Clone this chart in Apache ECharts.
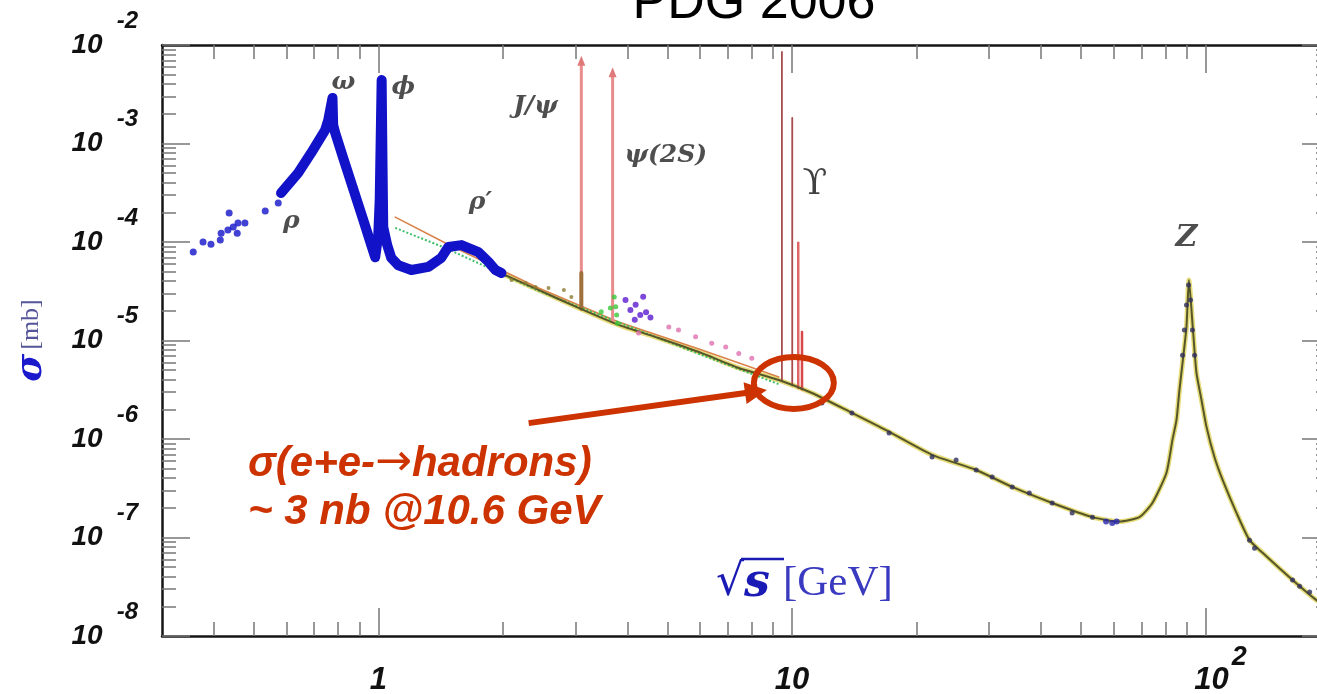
<!DOCTYPE html>
<html>
<head>
<meta charset="utf-8">
<title>PDG 2006</title>
<script src="https://cdn.jsdelivr.net/npm/echarts@6/dist/echarts.min.js"></script>
<style>
    html, body { margin: 0; padding: 0; background: #fff; }
    #chart { width: 1317px; height: 694px; }
</style>
</head>
<body>
<div id="chart"></div>
<script>
// sqrt(s) [GeV], sigma [mb]
let rhoTail = [[0.357, 7.9e-5], [0.377, 1.0e-4], [0.394, 9.5e-5], [0.415, 1.05e-4], [0.417, 1.23e-4],
    [0.433, 1.32e-4], [0.436, 1.97e-4], [0.446, 1.42e-4], [0.456, 1.23e-4], [0.458, 1.56e-4],
    [0.476, 1.56e-4], [0.533, 2.06e-4], [0.573, 2.49e-4]];
let lowEnergyBand = [[0.582, 3.14e-4], [0.640, 5.02e-4], [0.688, 8.0e-4], [0.744, 1.37e-3], [0.757, 1.73e-3],
    [0.775, 2.9e-3], [0.778, 1.54e-3], [0.787, 1.28e-3], [0.823, 7.1e-4], [0.870, 3.45e-4], [0.920, 1.67e-4],
    [0.962, 9.3e-5], [0.983, 7.0e-5], [1.0, 1.18e-4], [1.008, 2.67e-4], [1.019, 4.4e-3], [1.023, 8.6e-4],
    [1.028, 1.42e-4], [1.051, 9.3e-5], [1.075, 6.9e-5], [1.118, 5.8e-5], [1.202, 5.2e-5], [1.322, 5.6e-5],
    [1.42, 6.9e-5], [1.477, 8.9e-5], [1.589, 9.3e-5], [1.746, 7.9e-5], [1.846, 6.3e-5], [1.92, 5.2e-5],
    [1.985, 4.85e-5]];
let continuum = [[1.95, 4.96e-5], [2.44, 3.26e-5], [3.05, 2.14e-5], [3.81, 1.44e-5], [4.76, 1.06e-5],
    [5.96, 7.64e-6], [7.44, 5.26e-6], [9.30, 3.97e-6], [11.18, 2.93e-6], [13.97, 1.84e-6], [16.89, 1.23e-6],
    [21.83, 6.9e-7], [27.9, 4.85e-7], [34.1, 3.26e-7], [42.6, 2.24e-7], [53.3, 1.61e-7], [61.9, 1.45e-7],
    [69.2, 1.61e-7], [74.4, 2.24e-7], [80.45, 4.52e-7], [83.2, 9.8e-7], [85.1, 1.56e-6], [86.5, 3.14e-6],
    [88.0, 5.9e-6], [89.95, 1.37e-5], [91.19, 4.11e-5], [93.0, 1.51e-5], [95.1, 4.68e-6], [97.8, 2.49e-6],
    [100.6, 1.32e-6], [105.1, 6.56e-7], [110.0, 3.84e-7], [118.9, 1.77e-7], [127.8, 9.4e-8], [137.4, 7.0e-8],
    [162.4, 3.7e-8], [185.7, 2.3e-8], [200, 1.92e-8]];
let partonModel = [[1.099, 1.79e-4], [1.453, 9.77e-5], [2.44, 3.41e-5], [3.81, 1.54e-5], [5.96, 8.2e-6], [9.30, 4.25e-6]];
let qcdDotted = [[1.099, 1.39e-4], [1.453, 8.7e-5], [2.44, 3.19e-5], [5.96, 7.3e-6], [9.30, 3.6e-6]];
let hiEnergyPts = [[11.82, 2.32e-6], [13.97, 1.84e-6], [17.18, 1.15e-6], [21.83, 6.56e-7], [24.95, 6.12e-7],
    [27.9, 4.85e-7], [30.5, 4.11e-7], [34.1, 3.26e-7], [37.5, 2.83e-7], [42.6, 2.24e-7], [47.6, 1.77e-7],
    [53.3, 1.61e-7], [88.0, 7.1e-6], [88.9, 1.28e-5], [89.95, 2.29e-5], [91.0, 3.66e-5], [92.0, 2.58e-5],
    [93.0, 1.28e-5], [94.1, 7.1e-6], [127.8, 9.4e-8], [131.4, 7.8e-8], [162.4, 3.7e-8], [168.9, 3.2e-8],
    [178.6, 2.8e-8]];
let zDipPts = [[57.5, 1.45e-7], [59.5, 1.4e-7], [61, 1.45e-7]];
let olivePts = [[2.10, 4.11e-5], [2.27, 3.84e-5], [2.40, 3.49e-5], [2.58, 3.41e-5], [2.81, 3.26e-5], [2.93, 2.77e-5]];
let greenPts = [[3.46, 1.96e-5], [3.64, 2.14e-5], [3.72, 2.77e-5], [3.75, 2.2e-5], [3.77, 1.82e-5], [3.79, 1.5e-5]];
let purplePts = [[3.96, 2.58e-5], [4.07, 2.04e-5], [4.19, 2.31e-5], [4.30, 1.82e-5], [4.44, 1.93e-5],
    [4.55, 1.71e-5], [4.17, 1.62e-5], [4.37, 2.78e-5]];
let pinkPts = [[4.26, 1.19e-5], [5.04, 1.37e-5], [5.32, 1.28e-5], [5.85, 1.09e-5], [6.40, 9.4e-6],
    [6.92, 8.6e-6], [7.44, 7.4e-6], [8.00, 6.6e-6]];

// narrow resonances (vertical lines)
let jpsi = [[3.097, 2.1e-5], [3.097, 6.9e-3]];
let jpsiFoot = [[3.097, 2.1e-5], [3.097, 4.84e-5]];
let psi2s = [[3.686, 1.55e-5], [3.686, 5.3e-3]];
let ups1s = [[9.46, 3.9e-6], [9.46, 8.5e-3]];
let ups2s = [[10.02, 3.5e-6], [10.02, 1.82e-3]];
let ups3s = [[10.36, 3.3e-6], [10.36, 9.8e-5]];
let ups4s = [[10.58, 3.2e-6], [10.58, 1.22e-5]];

let peakNames = ['ω', 'ϕ', 'ρ', 'ρ′', 'J/ψ', 'ψ(2S)', 'ϒ', 'Z'];
let peakLabelAt = [[0.823, 4.21e-3], [1.149, 3.66e-3], [0.616, 1.6e-4], [1.766, 2.49e-4],
    [2.399, 2.35e-3], [4.955, 7.64e-4], [11.37, 3.79e-4], [89.95, 1.1e-4]];

let xMajor = [1, 10, 100];
let xMinor = [0.4, 0.5, 0.6, 0.7, 0.8, 0.9, 2, 3, 4, 5, 6, 7, 8, 9, 20, 30, 40, 50, 60, 70, 80, 90];
let yMajor = [1e-8, 1e-7, 1e-6, 1e-5, 1e-4, 1e-3, 1e-2];
let yMinor = [];
yMajor.slice(0, -1).forEach(d => {
    [2, 3, 4, 5, 6, 7, 8, 9].forEach(k => yMinor.push(k * d));
});

// annotation anchor points
let circleAt = [10.11, 3.71e-6];
let arrowFrom = [2.31, 1.45e-6];
let arrowTo = [8.7, 3.14e-6];

let tickColor = '#777';
let frameColor = '#151515';

let makeAxis = (pos, major, ticks, len, withLine, extra) => Object.assign({
    type: 'log',
    logBase: 10,
    position: pos,
    axisLine: { show: withLine, onZero: false, lineStyle: { color: frameColor, width: 2.5 } },
    axisTick: { show: true, inside: true, length: len, customValues: ticks, lineStyle: { color: tickColor, width: 1.5 } },
    axisLabel: { show: false },
    splitLine: { show: false },
    minorTick: { show: false },
    minorSplitLine: { show: false },
    nameMoveOverlap: false
}, extra);

let xRange = { min: 0.3, max: 200 };
let yRange = { min: 1e-8, max: 1e-2 };

let xAxes = [
    makeAxis('bottom', true, xMajor, 28, true, Object.assign({
        axisLabel: {
            show: true,
            customValues: xMajor,
            margin: 8,
            formatter: v => {
                let e = Math.round(Math.log10(v));
                if (e === 2) return '{bp|10}{e|2}';
                return '{b|' + (e === 0 ? '1' : '10') + '}';
            },
            rich: {
                b: { fontSize: 31, fontWeight: 'bold', fontStyle: 'italic', fontFamily: 'Liberation Sans', color: '#111', lineHeight: 72, verticalAlign: 'middle' },
                bp: { fontSize: 31, fontWeight: 'bold', fontStyle: 'italic', fontFamily: 'Liberation Sans', color: '#111', lineHeight: 72, verticalAlign: 'middle', padding: [0, 0, 0, 30] },
                e: { fontSize: 27, fontWeight: 'bold', fontStyle: 'italic', fontFamily: 'Liberation Sans', color: '#111', verticalAlign: 'top', padding: [0, 0, 0, 3] }
            }
        }
    }, xRange)),
    makeAxis('bottom', false, xMinor, 14, false, xRange),
    makeAxis('top', true, xMajor, 28, true, xRange),
    makeAxis('top', false, xMinor, 14, false, xRange)
];

let yAxes = [
    makeAxis('left', true, yMajor, 28, true, Object.assign({
        name: '{s|σ}{u|[mb]}',
        nameLocation: 'middle',
        nameRotate: 90,
        nameGap: 112,
        nameTextStyle: {
            rich: {
                s: { fontSize: 38, fontWeight: 'bold', fontStyle: 'italic', fontFamily: 'DejaVu Serif', color: '#1a1acc' },
                u: { fontSize: 26, fontFamily: 'Liberation Serif', color: '#55559a', padding: [0, 0, 0, 4] }
            }
        },
        axisLabel: {
            show: true,
            customValues: yMajor,
            margin: 24,
            formatter: v => '{b|10}{e|' + Math.round(Math.log10(v)) + '}',
            rich: {
                b: { fontSize: 28, fontWeight: 'bold', fontStyle: 'italic', fontFamily: 'Liberation Sans', color: '#111', lineHeight: 72, verticalAlign: 'middle' },
                e: { fontSize: 24, fontWeight: 'bold', fontStyle: 'italic', fontFamily: 'Liberation Sans', color: '#111', verticalAlign: 'top', padding: [0, 0, 0, 14] }
            }
        }
    }, yRange)),
    makeAxis('left', false, yMinor, 14, false, yRange),
    makeAxis('right', true, yMajor, 28, true, yRange),
    makeAxis('right', false, yMinor, 14, false, yRange)
];

let line = (data, color, width, extra) => Object.assign({
    type: 'line',
    data: data,
    symbol: 'none',
    silent: true,
    z: 2,
    lineStyle: { color: color, width: width, cap: 'round', join: 'round' }
}, extra || {});

let dots = (data, color, size) => ({
    type: 'scatter',
    data: data,
    symbol: 'circle',
    symbolSize: size,
    silent: true,
    z: 4,
    itemStyle: { color: color }
});

// arrow head on top point
let arrowTop = (data, color) => data.map((p, i) => i === 1
    ? { value: p, symbol: 'triangle', symbolSize: [8, 10], itemStyle: { color: color } }
    : { value: p, symbol: 'none' });

let series = [
    line(continuum, '#e6dc7a', 5, { smooth: 0.2 }),
    line(continuum, '#55552a', 2, { smooth: 0.2, z: 3 }),
    line(partonModel, '#d9824a', 1.6),
    line(qcdDotted, '#3fbf6a', 2, { lineStyle: { color: '#3fbf6a', width: 2, type: 'dotted' } }),
    line(arrowTop(jpsi, '#e07a7a'), '#e88c8c', 3, { showSymbol: true }),
    line(jpsiFoot, '#a0703c', 4),
    line(arrowTop(psi2s, '#e07a7a'), '#e88c8c', 3, { showSymbol: true }),
    line(ups1s, '#a84c4c', 1.8),
    line(ups2s, '#a84c4c', 1.8),
    line(ups3s, '#e06464', 2.5),
    line(ups4s, '#d84848', 2.5),
    line(lowEnergyBand, '#1212c8', 10, { z: 5 }),
    dots(rhoTail, '#1212c8', 7),
    dots(olivePts, '#8a7a30', 4),
    dots(greenPts, '#38c838', 5),
    dots(purplePts, '#5a1ad0', 6),
    dots(pinkPts, '#e070b0', 5),
    dots(hiEnergyPts, '#303060', 5),
    dots(zDipPts, '#2828b0', 6),
    {
        type: 'scatter',
        silent: true,
        symbolSize: 1,
        z: 6,
        itemStyle: { color: 'transparent' },
        data: peakNames.map((n, i) => ({
            name: n,
            value: peakLabelAt[i],
            label: n === 'ϒ' ? { fontStyle: 'normal', fontWeight: 'normal', fontSize: 36, color: '#111' }
                : n === 'Z' ? { fontSize: 30 } : {}
        })),
        label: {
            show: true,
            position: 'inside',
            formatter: p => p.name,
            fontFamily: 'DejaVu Serif',
            fontWeight: 'bold',
            fontStyle: 'italic',
            fontSize: 25,
            color: '#222'
        }
    }
];

let chart = echarts.init(document.getElementById('chart'));
chart.setOption({
    animation: false,
    backgroundColor: '#fff',
    grid: { left: 162, top: 45, right: -13, bottom: 58, outerBoundsMode: 'none', containLabel: false },
    xAxis: xAxes,
    yAxis: yAxes,
    series: series
});

// red annotation: arrow + ellipse, placed through the axes
let toPx = p => chart.convertToPixel({ xAxisIndex: 0, yAxisIndex: 0 }, p);
let c = toPx(circleAt);
let a0 = toPx(arrowFrom);
let a1 = toPx(arrowTo);
let dx = a1[0] - a0[0], dy = a1[1] - a0[1];
let len = Math.sqrt(dx * dx + dy * dy);
let ux = dx / len, uy = dy / len;
let headLen = 22, headHalf = 11;
let bx = a1[0] - ux * headLen, by = a1[1] - uy * headLen;
let red = '#cc3300';
let redFont = { fontSize: 42, fontWeight: 'bold', fontStyle: 'italic', fontFamily: 'Liberation Sans', fill: red };

chart.setOption({
    graphic: [
        {
            type: 'text', x: 754, y: 4, z: 100,
            style: { text: 'PDG 2006', fontSize: 52, fontFamily: 'Liberation Sans', fill: '#000', align: 'center', verticalAlign: 'middle' }
        },
        {
            type: 'text', x: 248, y: 440, z: 100,
            style: {
                text: '{t|σ(e+e-}{a|→}{t|hadrons)}\n{t|~ 3 nb @10.6 GeV}',
                lineHeight: 48, verticalAlign: 'top',
                rich: {
                    t: Object.assign({ lineHeight: 48 }, redFont),
                    a: { fontSize: 44, fontFamily: 'DejaVu Sans', fill: red, lineHeight: 48 }
                }
            }
        },
        {
            type: 'text', x: 716, y: 584, z: 100,
            style: {
                text: '{r|√}{s|s}{u|[GeV]}',
                verticalAlign: 'middle',
                rich: {
                    r: { fontSize: 44, fontFamily: 'DejaVu Sans', fill: '#1a1ab4' },
                    s: { fontSize: 46, fontWeight: 'bold', fontStyle: 'italic', fontFamily: 'DejaVu Serif', fill: '#1a1ab4' },
                    u: { fontSize: 43, fontFamily: 'Liberation Serif', fill: '#3a3ac0', padding: [0, 0, 0, 13] }
                }
            }
        },
        {
            type: 'line', z: 100,
            shape: { x1: 741, y1: 559, x2: 784, y2: 559 },
            style: { stroke: '#1a1ab4', lineWidth: 2.5 }
        },
        {
            type: 'line', z: 100,
            shape: { x1: a0[0], y1: a0[1], x2: bx + ux * 2, y2: by + uy * 2 },
            style: { stroke: red, lineWidth: 6 }
        },
        {
            type: 'polygon', z: 100,
            shape: { points: [[a1[0], a1[1]], [bx - uy * headHalf, by + ux * headHalf], [bx + uy * headHalf, by - ux * headHalf]] },
            style: { fill: red }
        },
        {
            type: 'ellipse', z: 100,
            shape: { cx: c[0], cy: c[1], rx: 40, ry: 26 },
            style: { fill: 'none', stroke: red, lineWidth: 6 }
        }
    ]
});
</script>
</body>
</html>
